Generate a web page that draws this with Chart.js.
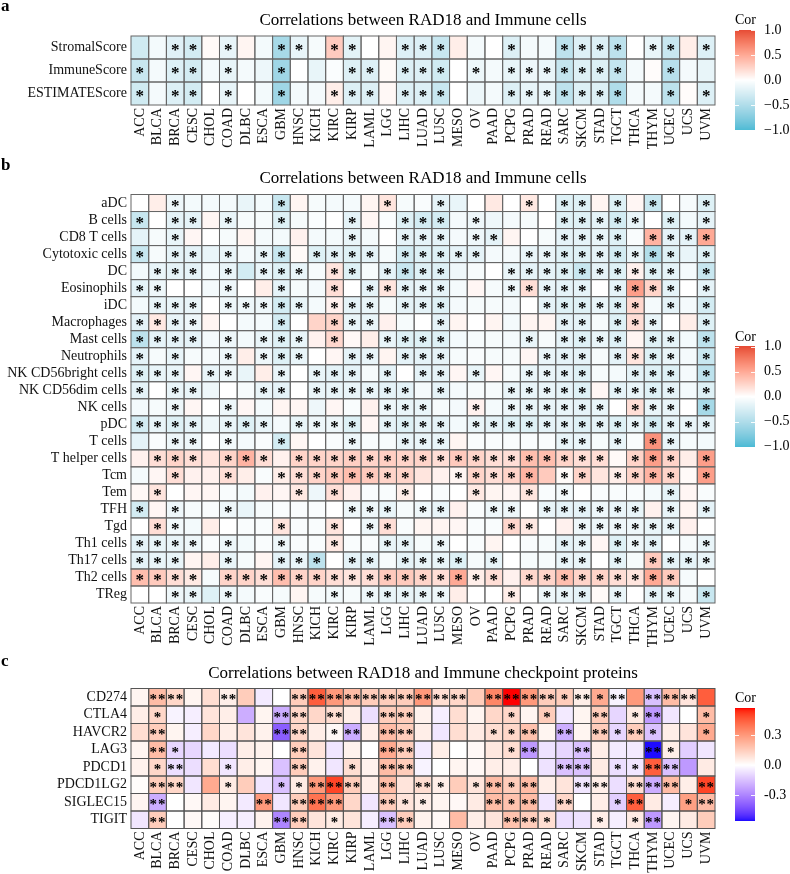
<!DOCTYPE html>
<html><head><meta charset="utf-8">
<script src="https://cdn.jsdelivr.net/npm/chart.js@4.4.1/dist/chart.umd.min.js"></script>
<style>
html,body{margin:0;padding:0;background:#fff;}
#wrap{position:relative;width:790px;height:874px;overflow:hidden;background:#fff;}
canvas{position:absolute;left:0;}
</style></head><body>
<div id="wrap">
<canvas id="ca" width="790" height="155" style="top:0px"></canvas>
<canvas id="cb" width="790" height="495" style="top:155px"></canvas>
<canvas id="cc" width="790" height="224" style="top:650px"></canvas>
</div>
<script>
// ---------------- DATA ----------------
const cancers = ['ACC','BLCA','BRCA','CESC','CHOL','COAD','DLBC','ESCA','GBM','HNSC','KICH','KIRC','KIRP','LAML','LGG','LIHC','LUAD','LUSC','MESO','OV','PAAD','PCPG','PRAD','READ','SARC','SKCM','STAD','TGCT','THCA','THYM','UCEC','UCS','UVM'];

// Panel a
const rowsA = ['StromalScore','ImmuneScore','ESTIMATEScore'];
const valuesA = [
 [-0.3,-0.08,-0.2,-0.28,0.03,-0.15,0.06,-0.08,-0.55,-0.15,-0.06,0.3,-0.18,0,0.06,-0.22,-0.22,-0.35,0.1,-0.07,0,-0.22,-0.07,-0.07,-0.42,-0.22,-0.22,-0.42,0,-0.15,-0.35,0.1,-0.22],
 [-0.35,-0.07,-0.22,-0.28,-0.07,-0.15,-0.07,-0.12,-0.6,0,-0.15,-0.03,-0.22,-0.22,0.03,-0.22,-0.22,-0.3,0,-0.12,-0.07,-0.15,-0.12,-0.15,-0.38,-0.22,-0.22,-0.38,-0.07,0.02,-0.45,-0.07,-0.15],
 [-0.3,-0.07,-0.22,-0.28,0,-0.15,0,-0.08,-0.6,-0.07,-0.07,0.1,-0.22,-0.22,0.04,-0.22,-0.22,-0.35,0,-0.12,-0.07,-0.22,-0.15,-0.15,-0.42,-0.22,-0.22,-0.5,-0.07,-0.07,-0.42,0.02,-0.22]
];
const starsA = [
 '001101001101100111000100111101101',
 '101101001000110111010111111100100',
 '101101001001110111000111111100101'
];

// Panel b
const rowsB = ['aDC','B cells','CD8 T cells','Cytotoxic cells','DC','Eosinophils','iDC','Macrophages','Mast cells','Neutrophils','NK CD56bright cells','NK CD56dim cells','NK cells','pDC','T cells','T helper cells','Tcm','Tem','TFH','Tgd','Th1 cells','Th17 cells','Th2 cells','TReg'];
const valuesB = [
 [0,0.1,-0.11,-0.08,-0.07,-0.07,-0.14,-0.08,-0.35,0.06,-0.06,-0.07,-0.07,0.06,0.15,-0.06,-0.04,-0.17,-0.14,0,0.13,0,0.13,0,-0.21,-0.21,0.06,-0.21,0.05,-0.35,0,-0.06,-0.21],
 [-0.35,0,-0.17,-0.17,0.05,-0.14,-0.06,-0.06,-0.21,-0.06,-0.03,0,-0.17,0.05,-0.03,-0.21,-0.28,-0.28,-0.07,-0.11,-0.11,-0.07,-0.06,0,-0.21,-0.21,-0.17,-0.28,-0.14,0,-0.21,-0.08,-0.17],
 [-0.17,-0.06,-0.14,0.05,0,-0.06,0.06,-0.07,-0.08,0.08,-0.07,-0.07,-0.14,-0.07,0,-0.17,-0.17,-0.17,-0.07,-0.11,-0.17,0.06,0,-0.06,-0.17,-0.17,-0.14,-0.21,-0.04,0.44,-0.17,-0.17,0.5],
 [-0.35,-0.06,-0.17,-0.17,-0.14,-0.14,-0.07,-0.14,-0.35,0.03,-0.21,-0.17,-0.21,-0.17,-0.06,-0.28,-0.21,-0.21,-0.17,-0.17,-0.07,-0.07,-0.14,-0.14,-0.21,-0.21,-0.17,-0.28,-0.14,-0.49,-0.21,-0.14,-0.21],
 [-0.08,-0.14,-0.17,-0.17,-0.08,-0.14,-0.28,-0.14,-0.21,-0.14,-0.06,0.15,-0.21,-0.06,-0.17,-0.35,-0.21,-0.21,-0.11,-0.06,0,-0.14,-0.17,-0.17,-0.21,-0.35,-0.17,-0.21,0.08,-0.21,-0.17,-0.07,-0.35],
 [-0.17,-0.11,0,0,-0.07,-0.11,0,0.1,-0.17,-0.06,-0.07,0.19,0,-0.17,0.15,-0.17,-0.14,-0.17,-0.07,0.05,-0.06,-0.11,0.19,-0.14,-0.17,-0.17,0,-0.17,0.56,0.25,-0.17,0,-0.17],
 [-0.08,-0.14,-0.14,-0.14,0,-0.11,-0.11,-0.11,-0.28,-0.14,-0.07,0.08,-0.17,-0.14,-0.06,-0.17,-0.17,-0.21,-0.07,-0.06,-0.06,-0.07,0,-0.17,-0.21,-0.21,-0.14,-0.21,0.23,-0.07,-0.17,-0.07,-0.28],
 [-0.17,0.13,-0.14,-0.11,0.06,0,-0.07,-0.07,-0.28,0,0.25,0.25,-0.14,-0.14,0.08,-0.06,0,-0.17,0.06,0,0.06,-0.07,0.06,0.06,-0.17,-0.17,-0.06,-0.21,0.19,-0.14,0,0.1,-0.21],
 [-0.42,-0.17,-0.17,-0.17,-0.07,-0.11,-0.08,-0.14,-0.21,-0.14,0.08,0.23,0.04,0.1,-0.14,-0.21,-0.21,-0.21,-0.08,-0.06,-0.06,-0.07,-0.14,-0.06,-0.17,-0.21,-0.14,-0.21,0.06,-0.21,-0.17,-0.08,-0.42],
 [-0.17,-0.06,-0.14,-0.06,-0.06,-0.11,0.1,-0.11,-0.21,-0.14,0,0.05,-0.17,-0.14,0.06,-0.17,-0.17,-0.17,-0.06,-0.04,-0.06,-0.06,0.05,-0.14,-0.17,-0.17,-0.06,-0.17,0.15,-0.21,-0.14,-0.07,-0.35],
 [-0.21,-0.14,-0.14,0.05,-0.14,-0.11,-0.14,0.1,-0.14,0,-0.14,-0.17,-0.17,-0.06,-0.17,0,-0.17,-0.17,0.05,-0.14,0.05,-0.06,-0.14,-0.14,-0.17,-0.21,-0.06,-0.07,-0.17,-0.21,-0.21,-0.07,-0.42],
 [-0.17,0,-0.14,-0.14,-0.11,0,-0.06,-0.14,-0.17,0,-0.14,-0.14,-0.14,-0.14,-0.17,-0.17,-0.07,-0.17,-0.07,-0.06,-0.06,-0.14,-0.14,-0.14,-0.17,-0.21,0.05,-0.17,-0.14,-0.21,-0.17,-0.08,-0.21],
 [-0.08,-0.06,-0.11,0.05,0,-0.11,0.05,-0.07,0.06,0.05,-0.11,0.05,-0.04,0.08,-0.11,-0.14,-0.14,-0.06,-0.07,0.08,-0.07,-0.11,-0.14,-0.14,-0.14,-0.17,-0.14,0,0.19,-0.14,-0.14,0,-0.56],
 [-0.28,-0.14,-0.21,-0.17,-0.11,-0.14,-0.21,-0.14,-0.07,-0.14,-0.11,-0.11,-0.21,0.05,-0.17,-0.21,-0.17,-0.17,-0.08,-0.14,-0.17,-0.21,-0.21,-0.17,-0.17,-0.21,-0.17,-0.21,-0.14,-0.28,-0.17,-0.14,-0.17],
 [-0.17,-0.04,-0.11,-0.11,0,-0.08,-0.07,-0.04,-0.28,0.05,0,-0.04,-0.11,-0.04,-0.06,-0.14,-0.14,-0.14,0.06,-0.04,-0.04,-0.04,-0.04,-0.04,-0.14,-0.14,-0.06,-0.14,-0.04,0.63,-0.14,-0.06,-0.08],
 [0.08,0.19,0.25,0.19,0.15,0.25,0.44,0.19,0.08,0.25,0.25,0.25,0.28,0.25,0.28,0.25,0.25,0.19,0.31,0.25,0.19,0.19,0.38,0.38,0.25,0.19,0.19,0.03,0.25,0.56,0.25,0.1,0.56],
 [-0.07,0.05,0.19,0.08,0.08,0.19,0.1,-0.04,0.1,0.19,0.25,0.31,0.38,0.31,0.25,0.25,0.15,0.08,0.06,0.25,0.19,0.25,0.44,0.31,0.03,0.25,0.15,0.1,0.25,0.44,0.25,0.03,0.56],
 [0.04,0.15,0,0.05,0.05,-0.04,-0.08,0.08,0.05,0.13,-0.11,0.19,0.08,-0.04,-0.04,0.1,0,-0.04,0,0.13,0.06,0.05,0.15,-0.04,-0.07,0,-0.04,-0.04,-0.04,-0.07,-0.17,0.05,-0.04],
 [-0.28,0.05,-0.11,-0.06,-0.04,-0.11,-0.14,-0.06,-0.04,-0.04,-0.04,0,-0.11,-0.11,-0.14,-0.06,-0.11,-0.14,0.08,-0.04,-0.11,-0.11,0,-0.14,-0.17,-0.17,-0.11,-0.14,-0.14,0.08,-0.14,0.06,-0.17],
 [0,0.19,-0.08,-0.08,0.1,0,-0.04,-0.04,0.15,-0.04,-0.04,0.15,0,-0.11,0.19,-0.04,0.06,0.06,0.05,-0.04,-0.04,0.23,0.13,0,0.08,-0.11,-0.11,-0.11,-0.11,-0.14,-0.14,0.08,0],
 [-0.17,-0.14,-0.14,-0.11,-0.04,-0.11,-0.08,-0.04,-0.11,-0.04,-0.04,0.13,-0.04,-0.04,-0.14,-0.14,-0.06,-0.11,0,-0.04,0.06,0,-0.04,-0.06,-0.17,-0.14,0.05,-0.21,-0.11,-0.17,0,-0.06,-0.14],
 [-0.17,-0.14,-0.14,0.06,0.1,-0.14,-0.06,0.06,-0.17,-0.14,-0.42,0,-0.17,-0.17,-0.06,-0.17,-0.14,-0.14,-0.21,-0.06,-0.14,0,-0.06,-0.06,-0.14,-0.14,0,-0.17,-0.06,0.31,-0.17,-0.17,-0.14],
 [0.38,0.31,0.19,0.13,-0.06,0.25,0.25,0.19,0.38,0.25,0.25,0.19,0.15,0.19,0.31,0.31,0.25,0.19,0.5,0.1,0.19,0.08,0.23,0.25,0.38,0.25,0.25,0.19,0.15,0.5,0.31,-0.06,0],
 [0,0,-0.11,-0.14,-0.21,-0.11,-0.07,-0.04,-0.06,0.06,-0.06,-0.08,-0.06,-0.11,-0.14,-0.14,-0.14,-0.11,0.1,0,0,0.1,0,-0.11,-0.14,-0.17,0.03,-0.14,0,-0.17,-0.14,-0.06,-0.35]
];
const starsB = [
 '001000001000001001000010110101001',
 '101101001000100111010000111110101',
 '001000000000100111011000111101111',
 '101101011011110111110011111111101',
 '011101011101101111000111111111101',
 '110001001001011111000111110111101',
 '011101111101110111000001111110101',
 '111100001001110001000000110111001',
 '111101011101001111000010111101101',
 '101001011100110111000001110111101',
 '111011001011101011010011110011101',
 '101100011011111101000111110111101',
 '001001000000001110010111111011101',
 '111101110111101111011111111111111',
 '001101001000100111000000110101100',
 '011101110111111111111111111011101',
 '001001001111111100111110110111101',
 '010000000101000100010010100000100',
 '101001000000111011001101111110101',
 '011000001001011000000110011111100',
 '111101001001001101000000110111001',
 '111001001110110111101000110101111',
 '111101111111111111111011111111100',
 '001101000001011111000101110101101'
];

// Panel c
const rowsC = ['CD274','CTLA4','HAVCR2','LAG3','PDCD1','PDCD1LG2','SIGLEC15','TIGIT'];
const valuesC = [
 [0.03,0.2,0.12,0.03,0.1,0.05,0.15,-0.05,0,0.15,0.45,0.3,0.2,0.15,0.15,0.15,0.3,0.1,0.12,0.15,0.35,0.57,0.3,0.15,0.15,0.05,0.25,-0.03,0.3,-0.15,0.2,0.08,0.45],
 [0.05,0.12,-0.03,-0.04,0.08,0.05,-0.2,0.03,-0.2,0.12,0.12,0.1,0.05,-0.08,0.15,0.15,0.04,-0.04,0.1,0.03,0.12,0.12,0.03,0.15,-0.05,0.03,0.15,-0.1,0.06,-0.25,-0.06,0,0.2],
 [0.1,0.15,0.03,-0.04,0.12,0.05,0.08,0.04,-0.4,0.12,0.05,0.02,-0.2,0.05,0.2,0.15,0.05,-0.06,0.1,0.06,0.1,0.12,0.18,0.03,-0.2,0.03,0.15,-0.1,0.15,-0.15,0.05,0.08,0.25],
 [0.03,0.2,-0.1,-0.1,-0.05,-0.08,0.05,0.04,0,0.15,0.08,-0.06,0.04,0,0.25,0.15,-0.05,0.05,0,0.02,0.07,0.1,-0.25,-0.07,-0.1,-0.15,0.05,-0.05,-0.05,-0.56,0.05,-0.12,-0.06],
 [0.04,0.12,-0.08,-0.08,0.1,-0.06,0.05,0.03,-0.15,0.15,0.04,-0.06,0.1,0.04,0.2,0.15,-0.03,0,0.03,0.02,0.05,0.05,0,-0.07,-0.15,-0.15,0.06,-0.08,-0.06,0.45,-0.15,-0.25,0.06],
 [0.01,0.15,0.12,-0.06,0.25,0.06,0.15,-0.06,-0.15,0.06,0.3,0.5,0.15,0.05,0.2,0.08,0.1,0.05,0.15,0.08,0.2,0.15,0.2,0.05,0.08,-0.06,0.05,-0.08,0.1,-0.2,0.2,0.05,0.5],
 [0.03,-0.2,0,0.02,0.06,0.03,-0.05,0.3,-0.06,0.15,0.4,0.3,0.12,-0.06,0.15,0.08,0.05,0.03,0.02,0.06,0.2,0.18,0.2,-0.06,0.12,0,0.05,-0.12,0.45,0.06,-0.04,0.28,0.2],
 [-0.06,0.15,0,0.02,0.01,-0.04,-0.04,0.04,-0.3,0.15,0.08,0.06,0.08,-0.04,-0.15,0.15,0.04,0.02,0.2,0.05,0.08,0.18,0.15,0.1,-0.08,-0.07,0.05,-0.04,0.06,-0.25,0.03,0.06,0.15]
];
const starsC = [
 '022002000222222222202222121202220',
 '010000002202002200000101002012001',
 '020000002201202200001120202121001',
 '021000000200002200000120020002100',
 '012001000200102200000000220112200',
 '022001001122202021012120022022202',
 '020000020222002110002120200120012',
 '020000002201002200000221001012000'
];

const legendBreaksAB = [1, 0.5, 0, -0.5, -1];
const legendLabelsAB = ['1.0', '0.5', '0.0', '\u22120.5', '\u22121.0'];
const legendBreaksC = [0.3, 0, -0.3];
const legendLabelsC = ['0.3', '0.0', '-0.3'];
const limitsC = [-0.56, 0.57];

// ---------------- COLOURS (Lab interpolation like ggplot2) ----------------
function hexToRgb(h){return [parseInt(h.slice(1,3),16),parseInt(h.slice(3,5),16),parseInt(h.slice(5,7),16)];}
function rgb2lab(c){
  const f=v=>{v/=255;return v<=0.04045?v/12.92:Math.pow((v+0.055)/1.055,2.4);};
  const R=f(c[0]),G=f(c[1]),B=f(c[2]);
  const X=(0.4124564*R+0.3575761*G+0.1804375*B)/0.95047, Y=(0.2126729*R+0.7151522*G+0.0721750*B), Z=(0.0193339*R+0.1191920*G+0.9503041*B)/1.08883;
  const g=t=>t>0.008856?Math.cbrt(t):7.787*t+16/116;
  const fx=g(X),fy=g(Y),fz=g(Z);
  return [116*fy-16,500*(fx-fy),200*(fy-fz)];
}
function lab2rgb(l){
  const fy=(l[0]+16)/116, fx=fy+l[1]/500, fz=fy-l[2]/200;
  const inv=t=>{const t3=t*t*t;return t3>0.008856?t3:(t-16/116)/7.787;};
  const X=inv(fx)*0.95047, Y=inv(fy), Z=inv(fz)*1.08883;
  const R=3.2404542*X-1.5371385*Y-0.4985314*Z, G=-0.9692660*X+1.8760108*Y+0.0415560*Z, B=0.0556434*X-0.2040259*Y+1.0572252*Z;
  const h=v=>{v=v<=0.0031308?12.92*v:1.055*Math.pow(v,1/2.4)-0.055;return Math.round(Math.min(1,Math.max(0,v))*255);};
  return [h(R),h(G),h(B)];
}
function divergent(low,mid,high){
  const L=rgb2lab(hexToRgb(low)),M=rgb2lab(hexToRgb(mid)),H=rgb2lab(hexToRgb(high));
  return t=>{
    t=Math.max(0,Math.min(1,t));
    let A,B,u; if(t<0.5){A=L;B=M;u=t/0.5;}else{A=M;B=H;u=(t-0.5)/0.5;}
    const c=lab2rgb([A[0]+(B[0]-A[0])*u,A[1]+(B[1]-A[1])*u,A[2]+(B[2]-A[2])*u]);
    return 'rgb('+c[0]+','+c[1]+','+c[2]+')';
  };
}
const rampAB = divergent('#4DBBD5','#FFFFFF','#E64B35');
const rampC = divergent('#0000FF','#FFFFFF','#FF0000');
const scaleAB = v => rampAB(0.5 + v/2);
const maxAbsC = Math.max(Math.abs(limitsC[0]), Math.abs(limitsC[1]));
const scaleC = v => rampC(0.5 + v/(2*maxAbsC));

// ---------------- CHART FACTORY ----------------
const FONT = "'Liberation Serif','Times New Roman',serif";
const panelSpecs = {};

const heatPlugin = {
  id: 'heat',
  afterDatasetsDraw(chart) {
    const o = panelSpecs[chart.canvas.id];
    const ctx = chart.ctx;
    const off = o.offset;
    ctx.save();
    // tile borders
    ctx.strokeStyle = o.borderColor; ctx.lineWidth = 1;
    chart.data.datasets.forEach((ds, di) => {
      chart.getDatasetMeta(di).data.forEach(el => {
        const y0 = Math.min(el.y, el.base), h = Math.abs(el.base - el.y);
        ctx.strokeRect(el.x - el.width/2, y0, el.width, h);
      });
    });
    // significance stars
    ctx.fillStyle = '#000';
    ctx.font = o.starFont;
    ctx.textAlign = 'center'; ctx.textBaseline = 'alphabetic';
    const m = ctx.measureText('*');
    const inkMid = (m.actualBoundingBoxAscent - m.actualBoundingBoxDescent) / 2;
    chart.data.datasets.forEach((ds, di) => {
      const s = o.stars[di];
      chart.getDatasetMeta(di).data.forEach((el, j) => {
        const n = +s[j];
        if (!n) return;
        const cy = (el.y + el.base) / 2 + inkMid;
        if (n === 2) {
          ctx.fillText('*', el.x - o.starGap, cy);
          ctx.fillText('*', el.x + o.starGap, cy);
        } else {
          ctx.fillText('*', el.x, cy);
        }
      });
    });
    // title and panel letter
    const ca = chart.chartArea;
    ctx.font = "17px " + FONT; ctx.textAlign = 'center'; ctx.textBaseline = 'alphabetic';
    ctx.fillText(o.title, (ca.left + ca.right) / 2, o.titleY - off);
    ctx.font = "bold 17px " + FONT; ctx.textAlign = 'left';
    ctx.fillText(o.letter, 1, o.letterY - off);
    // colour bar legend
    const L = o.legend;
    ctx.font = "14px " + FONT; ctx.textAlign = 'left';
    ctx.fillText('Cor', L.x, L.titleY - off);
    const vpix = v => L.barTop + (L.vmax - v) / (L.vmax - L.vmin) * (L.barBottom - L.barTop) - off;
    for (let yy = Math.floor(L.barTop); yy < L.barBottom; yy++) {
      const v = L.vmax - (yy + 0.5 - L.barTop) / (L.barBottom - L.barTop) * (L.vmax - L.vmin);
      ctx.fillStyle = o.colorFn(v);
      ctx.fillRect(L.x, yy - off, L.w, 1);
    }
    ctx.strokeStyle = 'rgba(255,255,255,0.9)'; ctx.lineWidth = 1;
    ctx.fillStyle = '#000'; ctx.textBaseline = 'middle';
    L.breaks.forEach((b, i) => {
      const py = Math.round(vpix(b)) + 0.5;
      ctx.beginPath(); ctx.moveTo(L.x, py); ctx.lineTo(L.x + 4, py); ctx.moveTo(L.x + L.w - 4, py); ctx.lineTo(L.x + L.w, py); ctx.stroke();
      ctx.fillText(L.labels[i], L.labelX, vpix(b));
    });
    ctx.restore();
  }
};

function makeHeatmap(p) {
  panelSpecs[p.id] = p;
  const canvas = document.getElementById(p.id);
  const H = canvas.height;
  const datasets = p.rows.map((r, ri) => ({
    label: r,
    data: cancers.map(() => 1),
    backgroundColor: p.values[ri].map(v => p.colorFn(v)),
    borderWidth: 0,
    barPercentage: 1,
    categoryPercentage: 1,
    stack: 'tiles'
  }));
  return new Chart(canvas, {
    type: 'bar',
    data: { labels: cancers, datasets },
    options: {
      responsive: false,
      animation: false,
      devicePixelRatio: 1,
      layout: { padding: { left: 0, right: 75, top: p.gridTop - p.offset, bottom: 0 } },
      plugins: { legend: { display: false }, tooltip: { enabled: false }, title: { display: false } },
      scales: {
        x: {
          type: 'category', stacked: true, offset: true,
          grid: { display: false, drawTicks: false, offset: false },
          border: { display: false },
          ticks: { autoSkip: false, minRotation: 90, maxRotation: 90, padding: 3, color: '#111', font: { family: FONT, size: 14 } },
          afterFit: s => { s.height = H - (p.gridBottom - p.offset); }
        },
        y: {
          type: 'linear', stacked: true, min: 0, max: p.rows.length, reverse: true,
          afterBuildTicks: axis => { axis.ticks = p.rows.map((r, i) => ({ value: i + 0.5 })); },
          grid: { display: false, drawTicks: false },
          border: { display: false },
          ticks: { autoSkip: false, padding: 4, color: '#111', font: { family: FONT, size: 14 }, callback: (v, i) => p.rows[i] },
          afterFit: s => { s.width = 131; }
        }
      }
    },
    plugins: [heatPlugin]
  });
}

makeHeatmap({
  id: 'ca', offset: 0, gridTop: 36, gridBottom: 105,
  rows: rowsA, values: valuesA, stars: starsA, colorFn: scaleAB,
  title: 'Correlations between RAD18 and Immune cells', titleY: 25, letter: 'a', letterY: 11,
  starFont: "bold 17px " + FONT, starGap: 0, borderColor: '#666',
  legend: { x: 735, w: 20, labelX: 764, titleY: 24, barTop: 30, barBottom: 130, vmax: 1, vmin: -1, breaks: legendBreaksAB, labels: legendLabelsAB }
});
makeHeatmap({
  id: 'cb', offset: 155, gridTop: 194.5, gridBottom: 603,
  rows: rowsB, values: valuesB, stars: starsB, colorFn: scaleAB,
  title: 'Correlations between RAD18 and Immune cells', titleY: 183, letter: 'b', letterY: 170,
  starFont: "bold 17px " + FONT, starGap: 0, borderColor: '#666',
  legend: { x: 735, w: 20, labelX: 764, titleY: 341, barTop: 346.5, barBottom: 446.5, vmax: 1, vmin: -1, breaks: legendBreaksAB, labels: legendLabelsAB }
});
makeHeatmap({
  id: 'cc', offset: 650, gridTop: 688.5, gridBottom: 828.5,
  rows: rowsC, values: valuesC, stars: starsC, colorFn: scaleC,
  title: 'Correlations between RAD18 and Immune checkpoint proteins', titleY: 678, letter: 'c', letterY: 666,
  starFont: "bold 15px " + FONT, starGap: 4.2, borderColor: '#555',
  legend: { x: 735, w: 20, labelX: 764, titleY: 702, barTop: 708.3, barBottom: 820.7, vmax: limitsC[1], vmin: limitsC[0], breaks: legendBreaksC, labels: legendLabelsC }
});
</script>
</body></html>
